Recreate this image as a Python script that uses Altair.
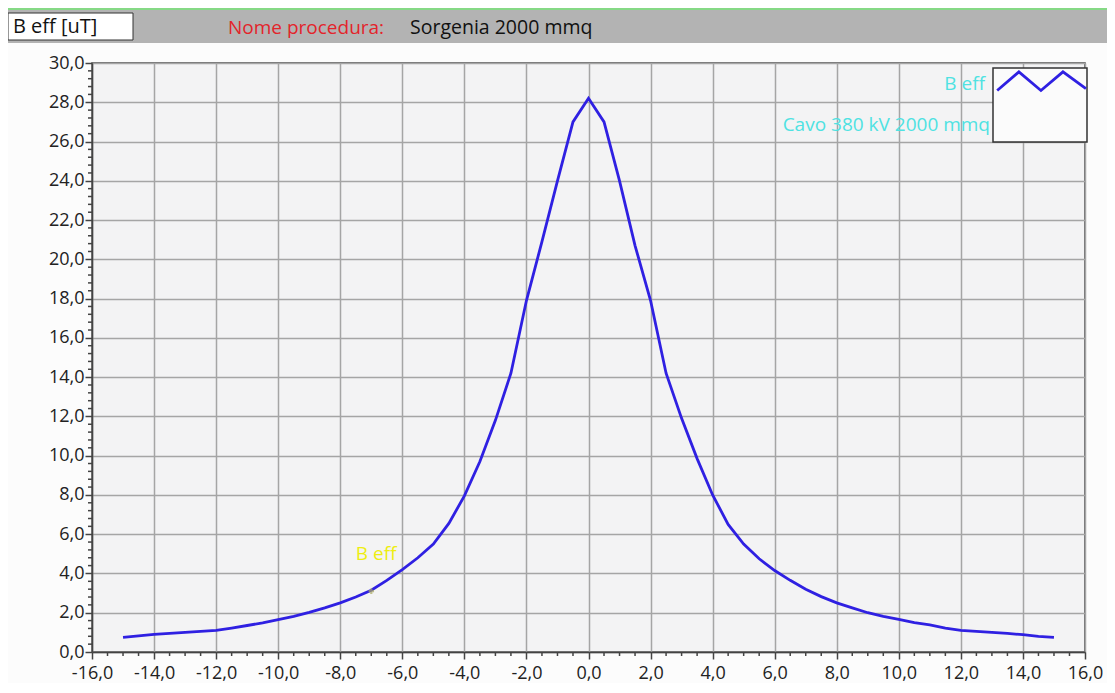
import altair as alt
import pandas as pd

# ---- data ----
x_vals = [-15.0, -14.5, -14.0, -13.5, -13.0, -12.5, -12.0, -11.5, -11.0, -10.5,
          -10.0, -9.5, -9.0, -8.5, -8.0, -7.5, -7.0, -6.5, -6.0, -5.5,
          -5.0, -4.5, -4.0, -3.5, -3.0, -2.5, -2.0, -1.5, -1.0, -0.5,
          0.0, 0.5, 1.0, 1.5, 2.0, 2.5, 3.0, 3.5, 4.0, 4.5,
          5.0, 5.5, 6.0, 6.5, 7.0, 7.5, 8.0, 8.5, 9.0, 9.5,
          10.0, 10.5, 11.0, 11.5, 12.0, 12.5, 13.0, 13.5, 14.0, 14.5, 15.0]
b_eff = [0.75, 0.82, 0.90, 0.95, 1.00, 1.05, 1.10, 1.22, 1.35, 1.48,
         1.65, 1.82, 2.02, 2.25, 2.50, 2.80, 3.15, 3.65, 4.20, 4.80,
         5.50, 6.55, 7.95, 9.70, 11.80, 14.20, 17.90, 20.90, 24.00, 27.00,
         28.20, 27.00, 24.00, 20.70, 17.90, 14.20, 11.90, 9.85, 8.00, 6.50,
         5.50, 4.75, 4.15, 3.65, 3.20, 2.82, 2.50, 2.25, 2.00, 1.82,
         1.66, 1.50, 1.38, 1.22, 1.10, 1.05, 1.00, 0.95, 0.88, 0.80, 0.75]

x_ticks = [-16, -14, -12, -10, -8, -6, -4, -2, 0, 2, 4, 6, 8, 10, 12, 14, 16]
y_ticks = [0, 2, 4, 6, 8, 10, 12, 14, 16, 18, 20, 22, 24, 26, 28, 30]
x_minor = [v / 2 for v in range(-32, 33) if v % 4 != 0]
y_minor = [v * 0.4 for v in range(0, 76) if v % 5 != 0]

header_labels = ["B eff [uT]", "Nome procedura:", "Sorgenia 2000 mmq"]
legend_labels = ["B eff", "Cavo 380 kV 2000 mmq"]
legend_glyph_x = [13.17, 13.87, 14.58, 15.29, 16.03]
legend_glyph_y = [28.6, 29.55, 28.6, 29.55, 28.7]
annot_text = ["B eff"]
annot_x = [-7.5]
annot_y = [5.0]
marker_x = [-7.0]
marker_y = [3.1]

W, H = 993, 589
FONT = "Open Sans"
FS = 18

df = pd.DataFrame({"x": x_vals, "b": b_eff})
xs = alt.Scale(domain=[-16, 16], nice=False, zero=False)
ys = alt.Scale(domain=[0, 30], nice=False, zero=False)

lab = "replace(replace(format(datum.value, '.1f'), '.', ','), '\u2212', '-')"

x_axis = alt.Axis(values=x_ticks, labelExpr=lab, tickSize=7, labelPadding=5,
                  labelOverlap=False, labelFlush=False, labelBound=False,
                  title=None)
y_axis = alt.Axis(values=y_ticks, labelExpr=lab, tickSize=7, labelPadding=1,
                  labelOverlap=False, labelFlush=False, labelBound=False,
                  title=None)

line = alt.Chart(df).mark_line(color="#2f20e2", strokeWidth=2.8).encode(
    x=alt.X("x:Q", scale=xs, axis=x_axis),
    y=alt.Y("b:Q", scale=ys, axis=y_axis),
)

xm = alt.Chart(pd.DataFrame({"m": x_minor})).mark_rule(color="#444", strokeWidth=1.5).encode(
    x=alt.X("m:Q", scale=xs, axis=x_axis), y=alt.value(H), y2=alt.value(H + 4))
ym = alt.Chart(pd.DataFrame({"m": y_minor})).mark_rule(color="#444", strokeWidth=1.5).encode(
    y=alt.Y("m:Q", scale=ys, axis=y_axis), x=alt.value(-4), x2=alt.value(0))

# header bar
hdr_df = pd.DataFrame({"t": [""]})
bar = alt.Chart(hdr_df).mark_rect(color="#b3b3b3").encode(
    x=alt.value(-84), x2=alt.value(1015), y=alt.value(-55), y2=alt.value(-20))
green = alt.Chart(hdr_df).mark_rect(color="#86d986").encode(
    x=alt.value(-84), x2=alt.value(1015), y=alt.value(-55), y2=alt.value(-53))
wbox = alt.Chart(hdr_df).mark_rect(fill="white", stroke="#333", strokeWidth=1).encode(
    x=alt.value(-84), x2=alt.value(41), y=alt.value(-50), y2=alt.value(-23))
t1 = alt.Chart(pd.DataFrame({"t": [header_labels[0]]})).mark_text(
    align="left", baseline="middle", font=FONT, fontSize=20, color="#111").encode(
    text="t:N", x=alt.value(-79), y=alt.value(-36))
t2 = alt.Chart(pd.DataFrame({"t": [header_labels[1]]})).mark_text(
    align="left", baseline="middle", font=FONT, fontSize=19, color="#e3242b").encode(
    text="t:N", x=alt.value(136), y=alt.value(-35))
t3 = alt.Chart(pd.DataFrame({"t": [header_labels[2]]})).mark_text(
    align="left", baseline="middle", font=FONT, fontSize=19.5, color="#111").encode(
    text="t:N", x=alt.value(318), y=alt.value(-35))

# legend
lbox = alt.Chart(hdr_df).mark_rect(fill="#fbfbfb", stroke="#333", strokeWidth=1.5).encode(
    x=alt.value(901), x2=alt.value(995), y=alt.value(5), y2=alt.value(79))
glyph = alt.Chart(pd.DataFrame({"gx": legend_glyph_x, "gy": legend_glyph_y})).mark_line(
    color="#2f20e2", strokeWidth=2.8).encode(
    x=alt.X("gx:Q", scale=xs, axis=x_axis), y=alt.Y("gy:Q", scale=ys, axis=y_axis))
lt1 = alt.Chart(pd.DataFrame({"t": [legend_labels[0]]})).mark_text(
    align="right", baseline="middle", font=FONT, fontSize=19, color="#4fe2e2").encode(
    text="t:N", x=alt.value(893), y=alt.value(21))
lt2 = alt.Chart(pd.DataFrame({"t": [legend_labels[1]]})).mark_text(
    align="right", baseline="middle", font=FONT, fontSize=19, color="#4fe2e2").encode(
    text="t:N", x=alt.value(898), y=alt.value(62))

annot = alt.Chart(pd.DataFrame({"t": annot_text, "ax": annot_x, "ay": annot_y})).mark_text(
    align="left", baseline="middle", font=FONT, fontSize=19, color="#eeee10").encode(
    text="t:N", x=alt.X("ax:Q", scale=xs, axis=x_axis), y=alt.Y("ay:Q", scale=ys, axis=y_axis))
marker = alt.Chart(pd.DataFrame({"mx": marker_x, "my": marker_y})).mark_point(
    shape="cross", size=30, color="#a8a860", filled=True).encode(
    x=alt.X("mx:Q", scale=xs, axis=x_axis), y=alt.Y("my:Q", scale=ys, axis=y_axis))

chart = alt.layer(bar, green, wbox, t1, t2, t3, line, xm, ym, lbox, glyph, lt1, lt2,
                  annot, marker).properties(
    width=W, height=H,
    autosize=alt.AutoSizeParams(type="none"),
    padding={"left": 84, "top": 55, "right": 22, "bottom": 31},
    background="#fcfcfc",
).configure_view(
    fill="#f3f3f4", stroke="#444", strokeWidth=1.5
).configure_axis(
    gridColor="#a5a5a5", gridWidth=1.5, domainColor="#444", domainWidth=1.5,
    tickColor="#444", tickWidth=1.5, labelFont=FONT, labelFontSize=FS,
    labelColor="#222"
)

chart.save("out.html", embed_options={"renderer": "svg", "actions": False})
